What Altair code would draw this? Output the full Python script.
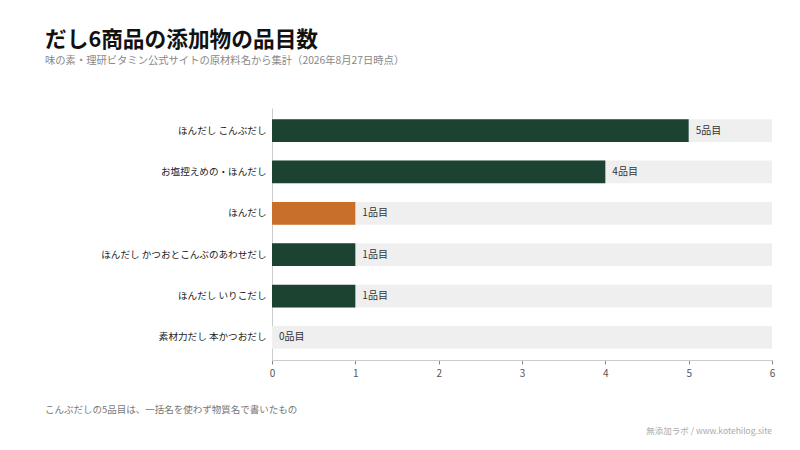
import pandas as pd
import altair as alt

FONT = "Noto Sans CJK JP"

# data
products = [
    "ほんだし こんぶだし",
    "お塩控えめの・ほんだし",
    "ほんだし",
    "ほんだし かつおとこんぶのあわせだし",
    "ほんだし いりこだし",
    "素材力だし 本かつおだし",
]
counts = [5, 4, 1, 1, 1, 0]
highlight = [False, False, True, False, False, False]
x_max = 6

df = pd.DataFrame({
    "product": products,
    "count": counts,
    "highlight": highlight,
    "full": [x_max] * len(products),
    "label": [f"{c}品目" for c in counts],
})

y_enc = alt.Y(
    "product:N", sort=products, title=None,
    scale=alt.Scale(paddingInner=0.45, paddingOuter=0.27),
    axis=alt.Axis(labelFont=FONT, labelFontSize=9.6, labelColor="#222",
                  labelPadding=6, ticks=False, domainColor="#cccccc"),
)

base = alt.Chart(df)

bg = base.mark_bar(color="#efefef").encode(
    y=y_enc,
    x=alt.X("full:Q", title=None,
            scale=alt.Scale(domain=[0, x_max]),
            axis=alt.Axis(values=list(range(x_max + 1)), format="d", grid=False,
                          labelFlush=False,
                          labelFont=FONT, labelFontSize=10, labelColor="#555",
                          labelPadding=4, tickColor="#888", tickSize=4,
                          domainColor="#cccccc")),
)

bars = base.mark_bar().encode(
    y=alt.Y("product:N", sort=products),
    x=alt.X("count:Q"),
    color=alt.Color("highlight:N",
                    scale=alt.Scale(domain=[False, True], range=["#1c4232", "#c8702a"]),
                    legend=None),
)

labels = base.mark_text(align="left", baseline="middle", dx=7,
                        font=FONT, fontSize=10, color="#333").encode(
    y=alt.Y("product:N", sort=products),
    x=alt.X("count:Q"),
    text="label:N",
)

note = alt.Chart(pd.DataFrame({"t": ["こんぶだしの5品目は、一括名を使わず物質名で書いたもの"]})).mark_text(
    align="left", baseline="middle", font=FONT, fontSize=9.5, color="#777"
).encode(x=alt.value(-227), y=alt.value(302), text="t:N")

source = alt.Chart(pd.DataFrame({"t": ["無添加ラボ / www.kotehilog.site"]})).mark_text(
    align="right", baseline="middle", font=FONT, fontSize=8.5, color="#aaa"
).encode(x=alt.value(500), y=alt.value(323), text="t:N")

chart = (bg + bars + labels + note + source).properties(
    width=500,
    height=252,
    background="white",
    autosize=alt.AutoSizeParams(type="none"),
    padding={"left": 264, "top": 100, "right": 20, "bottom": 80},
    title=alt.TitleParams(
        "だし6商品の添加物の品目数",
        subtitle="味の素・理研ビタミン公式サイトの原材料名から集計（2026年8月27日時点）",
        anchor="start", frame="group", dx=-227, offset=42,
        font=FONT, fontSize=21.7, fontWeight="bold", color="#111",
        subtitleFont=FONT, subtitleFontSize=10.3, subtitleColor="#888",
        subtitlePadding=4,
    ),
).configure_view(strokeWidth=0)

chart.save("out.html", embed_options={"renderer": "svg", "actions": False})
